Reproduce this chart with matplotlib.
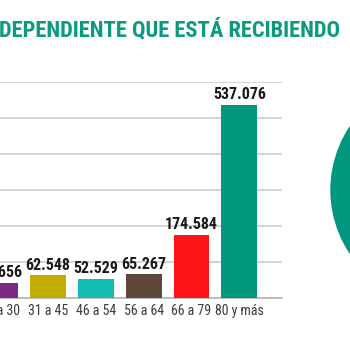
""" Bar chart of dependent people receiving benefits by age bracket,
cropped the same way as the reference picture.
"""

import matplotlib
matplotlib.use("Agg")
from matplotlib import pyplot as plt
from matplotlib.patches import Ellipse

categories = ["18 a 30", "31 a 45", "46 a 54", "56 a 64", "66 a 79", "80 y más"]
values = [41656, 62548, 52529, 65267, 174584, 537076]
value_labels = ["41.656", "62.548", "52.529", "65.267", "174.584", "537.076"]
bar_colors = ["#7d2a87", "#c2ae00", "#14bcb4", "#5f463b", "#fe1317", "#00977f"]

TITLE = "DEPENDIENTE QUE ESTÁ RECIBIENDO"
TITLE_COLOR = "#0b9a80"
NARROW = ["Roboto Condensed", "Fira Sans Condensed", "DejaVu Sans"]

fig = plt.figure(figsize=(3.5, 3.5), dpi=100)
ax = fig.add_axes([0.0, 0.1486, 282 / 350, 0.6171])

positions = list(range(len(categories)))
ax.bar(positions, values, width=0.75, color=bar_colors, zorder=3)

ax.set_xlim(0.2, 5.89)
ax.set_ylim(0, 600000)
ax.set_yticks([100000, 200000, 300000, 400000, 500000, 600000])
ax.yaxis.grid(True, color="#d4d4d4", linewidth=1.4, zorder=0)
ax.tick_params(axis="y", left=False, labelleft=False)
ax.tick_params(axis="x", bottom=False, pad=1)
ax.set_xticks(positions)
ax.set_xticklabels(categories, family=NARROW, fontstretch="condensed",
                   fontsize=10, color="#3c3c3c")

for side in ["top", "right", "left"]:
    ax.spines[side].set_visible(False)
ax.spines["bottom"].set_color("#b0b0b0")
ax.spines["bottom"].set_linewidth(1.2)

for pos, val, lab in zip(positions, values, value_labels):
    ax.annotate(lab, (pos, val), xytext=(0, 2), textcoords="offset points",
                ha="center", va="bottom", fontsize=11.5, fontweight="bold",
                family=NARROW, fontstretch="condensed", color="#1a1a1a", zorder=4)

fig.text(-0.003, 0.913, TITLE, ha="left", va="center", fontsize=16.2,
         fontweight="bold", family=NARROW, fontstretch="condensed", color=TITLE_COLOR)

fig.add_artist(Ellipse((445 / 350, 160 / 350), 228 / 350, 228 / 350,
                       transform=fig.transFigure, color="#00977f"))

plt.savefig("out.png", dpi=100)
